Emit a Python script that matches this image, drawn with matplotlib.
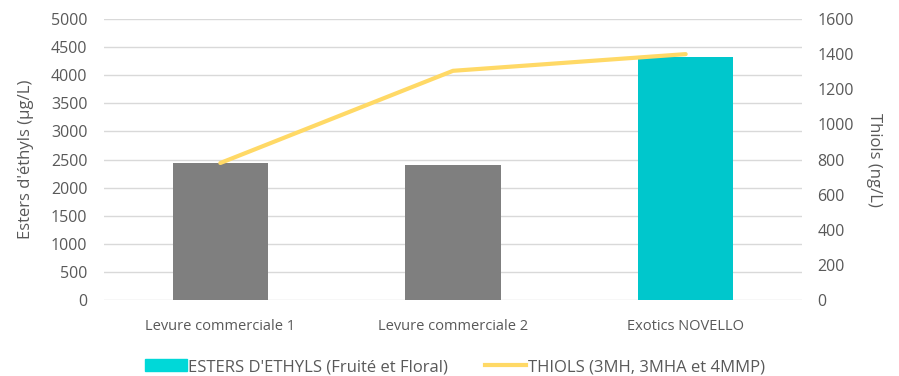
import numpy as np
import matplotlib
matplotlib.use("Agg")
import matplotlib.pyplot as plt
from matplotlib.patches import Patch
from matplotlib.lines import Line2D

categories = ["Levure commerciale 1", "Levure commerciale 2", "Exotics NOVELLO"]
esters = [2440, 2400, 4330]
thiols = [780, 1305, 1400]
bar_colors = ["#7f7f7f", "#7f7f7f", "#00c7cc"]

text_col = "#595959"
plt.rcParams['font.family'] = ['Open Sans', 'DejaVu Sans']
plt.rcParams['font.size'] = 10.5

fig = plt.figure(figsize=(8.99, 3.76), dpi=100)
ax = fig.add_axes([104/899, 1-300/376, (802-104)/899, 281/376])
x = np.arange(len(categories))
ax.bar(x, esters, width=0.41, color=bar_colors, zorder=3)
ax.set_xlim(-0.5, 2.5)
ax.set_ylim(0, 5000)
ax.set_yticks(np.arange(0, 5001, 500))
ax.set_xticks(x)
ax.set_xticklabels(categories, fontsize=10.5)
ax.grid(axis='y', color='#d9d9d9', linewidth=1, zorder=0)
ax.set_axisbelow(True)
for s in ax.spines.values():
    s.set_visible(False)
ax.tick_params(length=0, colors=text_col)
ax.tick_params(axis='y', pad=12, labelsize=11.5)
ax.tick_params(axis='x', pad=14)
ax.set_ylabel("Esters d'éthyls (µg/L)", color=text_col, fontsize=12, labelpad=12)

ax2 = ax.twinx()
ax2.plot(x, thiols, color='#ffd966', linewidth=3, solid_capstyle='round', zorder=4)
ax2.set_ylim(0, 1600)
ax2.set_yticks(np.arange(0, 1601, 200))
for s in ax2.spines.values():
    s.set_visible(False)
ax2.tick_params(length=0, colors=text_col, pad=11, labelsize=11.5)
ax2.set_ylabel("Thiols (ng/L)", color=text_col, fontsize=12, rotation=270, labelpad=20)

handles = [Patch(color='#00d8d8'), Line2D([0], [0], color='#ffd966', linewidth=3)]
labels = ["ESTERS D'ETHYLS (Fruité et Floral)", "THIOLS (3MH, 3MHA et 4MMP)"]
fig.legend(handles, labels, loc='center', bbox_to_anchor=(455/899, 1-367/376), ncol=2,
           frameon=False, handlelength=2.5, handletextpad=0.1, columnspacing=2.2,
           labelcolor=text_col, fontsize=12)

fig.savefig("out.png", dpi=100)
